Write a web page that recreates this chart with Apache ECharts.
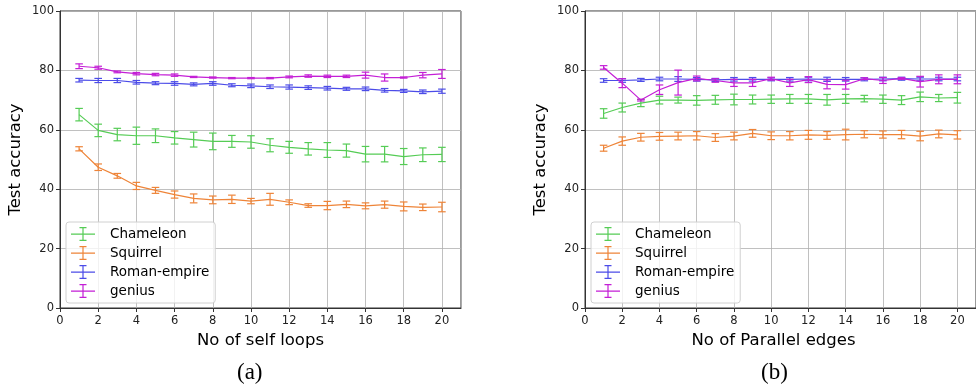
<!DOCTYPE html>
<html>
<head>
<meta charset="utf-8">
<script src="https://cdn.jsdelivr.net/npm/echarts@6/dist/echarts.min.js"></script>
<style>
  html, body { margin: 0; padding: 0; background: #fff; }
  #chart { width: 976px; height: 388px; }
</style>
</head>
<body>
<div id="chart"></div>
<script>
  // x values shared by both panels
  var steps = [1, 2, 3, 4, 5, 6, 7, 8, 9, 10, 11, 12, 13, 14, 15, 16, 17, 18, 19, 20]
  var names = ['Chameleon', 'Squirrel', 'Roman-empire', 'genius']
  var colors = ['#55cc55', '#ee8438', '#4c4ce8', '#c41fd6']

  // (a) self loops
  var loopsChameleon = [65.1, 59.8, 58.4, 58.0, 58.0, 57.3, 56.7, 56.1, 56.1, 55.9, 54.8, 54.1, 53.6, 53.2, 53.0, 51.8, 51.8, 51.0, 51.6, 51.7]
  var loopsChameleonErr = [2.1, 2.1, 2.1, 2.9, 2.3, 2.1, 2.5, 2.8, 2.0, 2.1, 2.2, 2.0, 2.1, 2.5, 2.2, 2.6, 2.6, 2.7, 2.3, 2.4]
  var loopsSquirrel = [53.6, 47.4, 44.5, 41.1, 39.6, 38.2, 36.9, 36.4, 36.6, 36.0, 36.6, 35.6, 34.5, 34.5, 34.9, 34.4, 34.8, 34.2, 33.9, 34.0]
  var loopsSquirrelErr = [0.7, 1.1, 0.8, 1.2, 1.0, 1.2, 1.5, 1.3, 1.4, 0.9, 2.0, 0.8, 0.6, 1.4, 1.1, 1.0, 1.2, 1.5, 1.1, 1.6]
  var loopsRoman = [76.7, 76.6, 76.6, 76.0, 75.7, 75.6, 75.3, 75.6, 75.0, 74.8, 74.5, 74.4, 74.2, 74.0, 73.8, 73.8, 73.3, 73.1, 72.8, 73.0]
  var loopsRomanErr = [0.6, 0.7, 0.7, 0.6, 0.5, 0.6, 0.5, 0.6, 0.5, 0.6, 0.6, 0.7, 0.6, 0.6, 0.5, 0.6, 0.6, 0.5, 0.6, 0.7]
  var loopsGenius = [81.4, 80.9, 79.5, 78.9, 78.6, 78.4, 77.8, 77.6, 77.4, 77.4, 77.4, 77.8, 78.1, 78.0, 78.0, 78.4, 77.6, 77.6, 78.4, 78.8]
  var loopsGeniusErr = [0.8, 0.5, 0.3, 0.4, 0.4, 0.4, 0.2, 0.2, 0.2, 0.2, 0.2, 0.3, 0.4, 0.4, 0.4, 1.0, 1.2, 0.2, 0.9, 1.5]

  // (b) parallel edges
  var edgesChameleon = [65.5, 67.5, 69.0, 70.0, 70.0, 69.9, 70.1, 70.2, 70.2, 70.3, 70.4, 70.4, 70.1, 70.4, 70.5, 70.3, 70.0, 71.1, 70.7, 70.8]
  var edgesChameleonErr = [1.6, 1.5, 1.2, 1.3, 1.0, 1.6, 1.5, 1.8, 1.5, 1.4, 1.5, 1.5, 1.8, 1.5, 1.1, 1.4, 1.5, 1.6, 1.2, 1.8]
  var edgesSquirrel = [53.8, 56.2, 57.5, 57.8, 57.9, 58.0, 57.4, 57.9, 58.8, 58.0, 58.0, 58.3, 58.1, 58.4, 58.5, 58.4, 58.4, 57.9, 58.6, 58.3]
  var edgesSquirrelErr = [1.0, 1.4, 1.3, 1.3, 1.3, 1.4, 1.3, 1.3, 1.3, 1.3, 1.4, 1.5, 1.3, 1.8, 1.2, 1.2, 1.4, 1.6, 1.3, 1.4]
  var edgesRoman = [76.6, 76.6, 76.8, 77.1, 77.1, 77.0, 76.8, 77.0, 77.0, 77.0, 77.0, 77.1, 77.0, 77.0, 77.0, 77.1, 77.2, 77.1, 77.1, 77.1]
  var edgesRomanErr = [0.6, 0.6, 0.5, 0.6, 0.8, 0.6, 0.5, 0.6, 0.6, 0.5, 0.6, 0.6, 0.7, 0.6, 0.5, 0.6, 0.5, 0.6, 0.6, 0.6]
  var edgesGenius = [81.0, 75.7, 70.0, 73.5, 75.9, 77.3, 76.6, 75.8, 75.8, 77.2, 75.8, 76.9, 75.3, 75.2, 77.2, 76.6, 77.3, 76.2, 77.0, 77.0]
  var edgesGeniusErr = [0.6, 1.5, 0.3, 1.6, 4.2, 0.8, 0.6, 1.2, 1.2, 0.5, 1.2, 1.0, 1.5, 1.5, 0.3, 1.0, 0.3, 1.8, 1.5, 1.5]

  var panels = [
    { title: 'No of self loops', tag: '(a)', values: [loopsChameleon, loopsSquirrel, loopsRoman, loopsGenius], errs: [loopsChameleonErr, loopsSquirrelErr, loopsRomanErr, loopsGeniusErr] },
    { title: 'No of Parallel edges', tag: '(b)', values: [edgesChameleon, edgesSquirrel, edgesRoman, edgesGenius], errs: [edgesChameleonErr, edgesSquirrelErr, edgesRomanErr, edgesGeniusErr] }
  ]

  var font = 'DejaVu Sans'
  var errIcon = 'path://M0,6.5h24v1.2h-24z M11.4,0h1.2v14h-1.2z M8.5,0h7v1.2h-7z M8.5,12.8h7v1.2h-7z'

  function errRender(params, api) {
    var x = api.value(0)
    var top = api.coord([x, api.value(2)])
    var bot = api.coord([x, api.value(1)])
    var style = { stroke: api.visual('color'), lineWidth: 1.2 }
    var cap = 3.8
    return {
      type: 'group',
      children: [
        { type: 'line', shape: { x1: top[0], y1: top[1], x2: bot[0], y2: bot[1] }, style: style },
        { type: 'line', shape: { x1: top[0] - cap, y1: top[1], x2: top[0] + cap, y2: top[1] }, style: style },
        { type: 'line', shape: { x1: bot[0] - cap, y1: bot[1], x2: bot[0] + cap, y2: bot[1] }, style: style }
      ]
    }
  }

  var grids = [
    { left: 60, top: 11, width: 401, height: 297, show: true, borderColor: '#333', borderWidth: 1 },
    { left: 585, top: 11, width: 402, height: 297, show: true, borderColor: '#333', borderWidth: 1 }
  ]

  var xAxes = [], yAxes = [], series = [], legends = [], graphics = []
  panels.forEach(function (p, gi) {
    xAxes.push({
      type: 'value', gridIndex: gi, min: 0, max: 21, interval: 2,
      name: p.title, nameLocation: 'middle', nameGap: 24,
      nameTextStyle: { fontFamily: font, fontSize: 16.5, color: '#000', padding: gi === 1 ? [0, 14, 0, 0] : 0 },
      axisLine: { onZero: false, lineStyle: { color: '#333' } },
      axisTick: { length: 4, lineStyle: { color: '#333' } },
      axisLabel: { showMaxLabel: false, margin: 7, fontFamily: font, fontSize: 11.5, color: '#222' },
      splitLine: { show: true, lineStyle: { color: '#b0b0b0', width: 0.8 } }
    })
    yAxes.push({
      type: 'value', gridIndex: gi, min: 0, max: 100, interval: 20,
      name: 'Test accuracy', nameLocation: 'middle', nameGap: 36,
      nameTextStyle: { fontFamily: font, fontSize: 16.5, color: '#000' },
      axisLine: { show: true, lineStyle: { color: '#333' } },
      axisTick: { show: true, length: 4, lineStyle: { color: '#333' } },
      axisLabel: { margin: 6, fontFamily: font, fontSize: 11.5, color: '#222' },
      splitLine: { show: true, lineStyle: { color: '#b0b0b0', width: 0.8 } }
    })
    names.forEach(function (n, si) {
      var vals = p.values[si], errs = p.errs[si]
      series.push({
        name: n, type: 'line', xAxisIndex: gi, yAxisIndex: gi,
        data: steps.map(function (x, i) { return [x, vals[i]] }),
        symbol: 'none', color: colors[si], lineStyle: { width: 1.2 },
        z: 2 + si * 2, animation: false
      })
      series.push({
        name: n, type: 'custom', xAxisIndex: gi, yAxisIndex: gi,
        data: steps.map(function (x, i) { return [x, vals[i] - errs[i], vals[i] + errs[i]] }),
        renderItem: errRender, color: colors[si],
        encode: { x: 0, y: [1, 2] },
        z: 3 + si * 2, animation: false
      })
    })
    legends.push({
      orient: 'vertical', left: grids[gi].left + 6, top: 222,
      data: names.map(function (n) { return { name: n, icon: errIcon } }),
      itemWidth: 24, itemHeight: 14, itemGap: 5,
      padding: [5, 6, 5, 5],
      backgroundColor: 'rgba(255,255,255,0.8)', borderColor: '#d0d0d0', borderWidth: 1, borderRadius: 3,
      textStyle: { fontFamily: font, fontSize: 13.5, color: '#000', padding: [0, 0, 0, 10] },
      selectedMode: false
    })
    graphics.push({
      type: 'text', left: gi === 0 ? 237 : 761, top: 361,
      style: { text: p.tag, font: '23px "Liberation Serif"', fill: '#000' }
    })
  })

  var chart = echarts.init(document.getElementById('chart'))
  chart.setOption({
    animation: false,
    grid: grids,
    xAxis: xAxes,
    yAxis: yAxes,
    legend: legends,
    series: series,
    graphic: graphics
  })
</script>
</body>
</html>
